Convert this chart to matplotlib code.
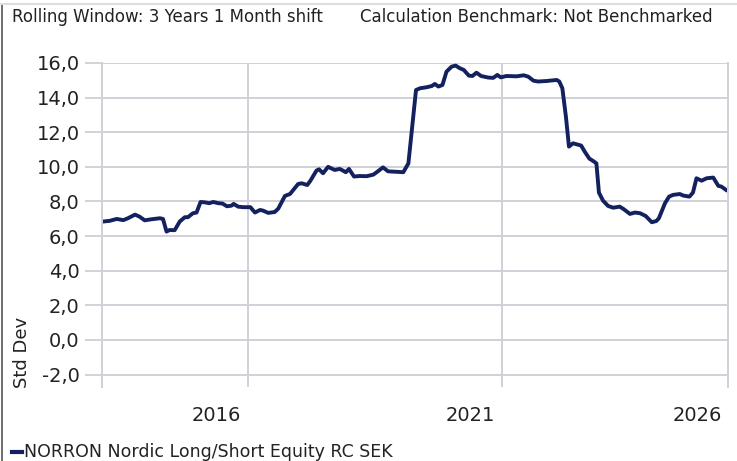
import matplotlib
matplotlib.use("Agg")
import matplotlib.pyplot as plt
from matplotlib.lines import Line2D

# decimal year / rolling 3y std dev
dates = [2013.15, 2013.28, 2013.42, 2013.55, 2013.64, 2013.78, 2013.87, 2013.97,
         2014.10, 2014.27, 2014.33, 2014.40, 2014.46, 2014.56, 2014.66, 2014.76,
         2014.82, 2014.92, 2014.99, 2015.07, 2015.15, 2015.24, 2015.32, 2015.42,
         2015.50, 2015.59, 2015.68, 2015.72, 2015.81, 2015.91, 2016.05, 2016.14,
         2016.24, 2016.30, 2016.40, 2016.53, 2016.60, 2016.73, 2016.83, 2016.99,
         2017.06, 2017.17, 2017.23, 2017.35, 2017.40, 2017.48, 2017.58, 2017.71,
         2017.81, 2017.93, 2017.99, 2018.09, 2018.20, 2018.34, 2018.47, 2018.55,
         2018.66, 2018.76, 2018.89, 2019.06, 2019.16, 2019.31, 2019.39, 2019.52,
         2019.62, 2019.68, 2019.75, 2019.83, 2019.91, 2020.01, 2020.09, 2020.17,
         2020.25, 2020.35, 2020.42, 2020.50, 2020.59, 2020.73, 2020.83, 2020.91,
         2020.98, 2021.09, 2021.29, 2021.43, 2021.52, 2021.62, 2021.71, 2021.88,
         2022.08, 2022.13, 2022.19, 2022.26, 2022.32, 2022.40, 2022.56, 2022.63,
         2022.72, 2022.81, 2022.86, 2022.91, 2022.99, 2023.09, 2023.19, 2023.32,
         2023.40, 2023.52, 2023.62, 2023.72, 2023.83, 2023.95, 2024.04, 2024.09,
         2024.21, 2024.29, 2024.37, 2024.50, 2024.57, 2024.69, 2024.76, 2024.83,
         2024.93, 2025.03, 2025.16, 2025.26, 2025.32, 2025.41]
std_dev = [6.84, 6.88, 6.99, 6.92, 7.03, 7.24, 7.12, 6.91,
           6.97, 7.03, 6.99, 6.26, 6.35, 6.34, 6.84, 7.09,
           7.09, 7.32, 7.36, 7.97, 7.95, 7.90, 7.97, 7.90,
           7.88, 7.72, 7.76, 7.86, 7.70, 7.67, 7.67, 7.36,
           7.51, 7.47, 7.34, 7.39, 7.59, 8.32, 8.43, 9.01,
           9.05, 8.95, 9.19, 9.78, 9.86, 9.63, 10.00, 9.82,
           9.88, 9.69, 9.88, 9.44, 9.47, 9.46, 9.55, 9.72,
           9.97, 9.74, 9.72, 9.69, 10.20, 14.44, 14.54, 14.60,
           14.67, 14.79, 14.64, 14.73, 15.50, 15.79, 15.85, 15.70,
           15.60, 15.27, 15.25, 15.44, 15.25, 15.16, 15.14, 15.31,
           15.17, 15.25, 15.23, 15.29, 15.21, 14.98, 14.93, 14.96,
           15.02, 14.93, 14.54, 12.90, 11.17, 11.36, 11.23, 10.88,
           10.48, 10.31, 10.20, 8.51, 8.05, 7.74, 7.64, 7.70,
           7.55, 7.28, 7.36, 7.32, 7.16, 6.80, 6.87, 7.03,
           7.90, 8.28, 8.38, 8.43, 8.34, 8.28, 8.51, 9.34,
           9.20, 9.34, 9.38, 8.90, 8.86, 8.67]

year_grid = [2016, 2021]
year_labels = ["2016", "2021", "2026"]
label_pos = [2015.38, 2020.38, 2024.84]
yticks = [-2, 0, 2, 4, 6, 8, 10, 12, 14, 16]
series_name = "NORRON Nordic Long/Short Equity RC SEK"
header = ["Rolling Window: 3 Years 1 Month shift", "Calculation Benchmark: Not Benchmarked"]

navy = "#13215f"
grid_c = "#cfd0d8"

fig = plt.figure(figsize=(7.37, 4.61), dpi=100)
ax = fig.add_axes([102 / 737, 1 - 387 / 461, 626 / 737, 324 / 461])

ax.plot(dates, std_dev, color=navy, linewidth=2.8, solid_joinstyle="round")
ax.set_xlim(2013.13, 2025.45)
ax.set_ylim(-2.72, 16)

ax.set_yticks(yticks)
ax.set_yticklabels([f"{v:.1f}".replace(".", ",") for v in yticks], fontsize=14, color="#222222")
ax.set_xticks(year_grid)
ax.set_xticklabels([])
ax.tick_params(axis="y", length=12, width=1.3, color=grid_c, pad=4)
ax.tick_params(axis="x", length=0)
ax.grid(True, color=grid_c, linewidth=1.4)
ax.set_axisbelow(True)

for s in ["top", "bottom"]:
    ax.spines[s].set_visible(False)
for s in ["left", "right"]:
    ax.spines[s].set_color(grid_c)
    ax.spines[s].set_linewidth(1.4)

for lab, pos in zip(year_labels, label_pos):
    ax.text(pos, -0.06, lab, transform=ax.get_xaxis_transform(), ha="center", va="top",
            fontsize=14, color="#222222")

fig.text(22 / 737, 1 - 352 / 461, "Std Dev", rotation=90, ha="center", va="center",
         fontsize=13, color="#222222")

fig.text(12 / 737, 1 - 17 / 461, header[0], ha="left", va="center", fontsize=12, color="#222222")
fig.text(360 / 737, 1 - 17 / 461, header[1], ha="left", va="center", fontsize=12, color="#222222")

fig.add_artist(Line2D([12 / 737, 22 / 737], [1 - 452 / 461] * 2, color=navy, linewidth=3))
fig.text(24 / 737, 1 - 452 / 461, series_name, ha="left", va="center", fontsize=12.5, color="#222222")

# frame around the picture
fig.add_artist(Line2D([0.0025, 0.0025], [0, 1 - 4 / 461], color="#555555", linewidth=1.2))
fig.add_artist(Line2D([0, 1], [1 - 4 / 461] * 2, color="#dddddd", linewidth=1.5))

fig.savefig("out.png", dpi=100)
